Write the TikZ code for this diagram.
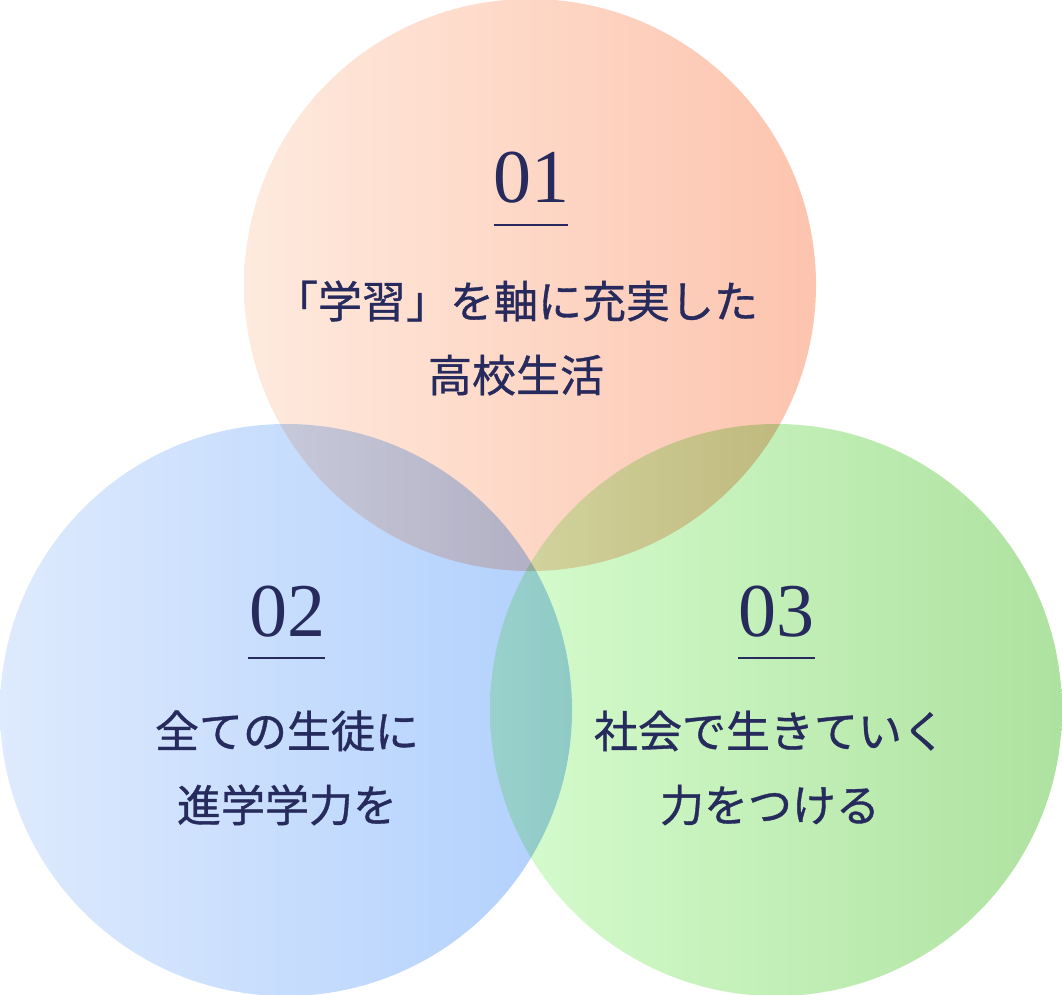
\documentclass[tikz,border=0pt]{standalone}
\usepackage{fontspec}
\newfontfamily\jp[FakeBold=0.8]{Noto Sans CJK JP}
\setmainfont{Liberation Serif}
\definecolor{navy}{HTML}{262A5C}
\begin{document}
\begin{tikzpicture}[x=1pt,y=-1pt,
  num/.style={text=navy,font=\fontsize{76}{76}\selectfont},
  jt/.style={text=navy,font=\jp\fontsize{44}{74}\selectfont,align=center},
  ul/.style={navy,line width=2.5pt}]
\useasboundingbox (0,0) rectangle (1062,995);
\begin{scope}[blend group=multiply]
\shade[shading angle=135,left color={rgb,255:red,254;green,234;blue,222},right color={rgb,255:red,253;green,196;blue,174}] (530,285) circle (286);
\shade[shading angle=135,left color={rgb,255:red,222;green,234;blue,253},right color={rgb,255:red,176;green,208;blue,253}] (286,710) circle (286);
\shade[shading angle=135,left color={rgb,255:red,214;green,252;blue,206},right color={rgb,255:red,174;green,226;blue,160}] (776,710) circle (286);
\end{scope}
\node[num] (n1) at (531,178) {01};
\draw[ul] (494,225) -- (568,225);
\node[jt] (t1) at (516,338) {「学習」を軸に充実した\\高校生活};
\node[num] (n2) at (287,612) {02};
\draw[ul] (248,658) -- (325,658);
\node[jt] (t2) at (287,768) {全ての生徒に\\進学学力を};
\node[num] (n3) at (776,612) {03};
\draw[ul] (738,658) -- (815,658);
\node[jt] (t3) at (770,768) {社会で生きていく\\力をつける};
\end{tikzpicture}
\end{document}
